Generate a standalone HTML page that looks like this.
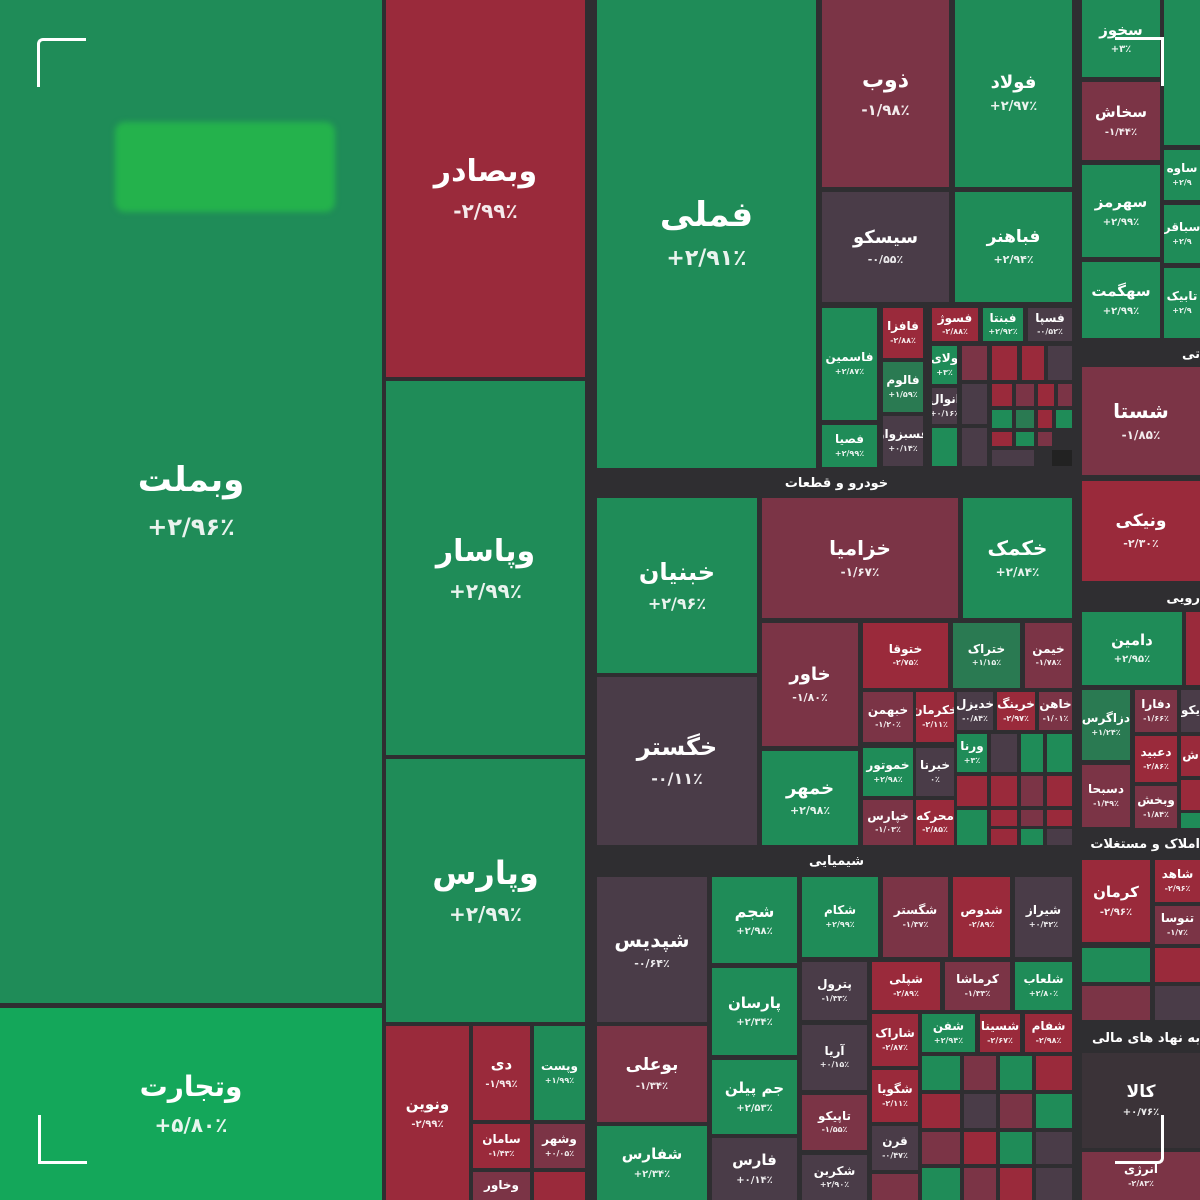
<!DOCTYPE html>
<html><head><meta charset="utf-8"><style>
body{margin:0;width:1200px;height:1200px;overflow:hidden;background:#2f2e31;font-family:"DejaVu Sans","Liberation Sans",sans-serif}
.t{position:absolute;display:flex;flex-direction:column;align-items:center;justify-content:center;color:#fff;font-weight:bold;overflow:hidden;line-height:1.1;white-space:nowrap}
.t i{font-style:normal;opacity:.9;margin-top:.6em}
.g{background:#1f8c58}.d{background:#2a7a52}.b{background:#14a75a}.r{background:#9a2a3b}.m{background:#7b3446}.k{background:#4a3c48}.x{background:#222}
.h{position:absolute;color:#fff;font-weight:bold;font-size:13px;display:flex;align-items:center;justify-content:center;white-space:nowrap;overflow:hidden}
.s{font-size:12px}.s i{font-size:8px;margin-top:.4em}
.n{font-size:15px}.n i{font-size:10px}
.c{position:absolute;border-color:#fff;border-style:solid;border-width:0;width:46px;height:46px}
</style></head><body>
<div class="t g" style="left:0;top:0;width:382px;height:1003px;font-size:34px">وبملت<i style="font-size:24px">+۲/۹۶٪</i></div>
<div style="position:absolute;left:115px;top:122px;width:220px;height:90px;background:#24b24c;border-radius:10px;filter:blur(3px)"></div>
<div class="t b" style="left:0;top:1008px;width:382px;height:192px;font-size:28px">وتجارت<i style="font-size:20px">+۵/۸۰٪</i></div>
<div class="t r" style="left:386px;top:0;width:199px;height:377px;font-size:30px">وبصادر<i style="font-size:20px">-۲/۹۹٪</i></div>
<div class="t g" style="left:386px;top:381px;width:199px;height:374px;font-size:30px">وپاسار<i style="font-size:20px">+۲/۹۹٪</i></div>
<div class="t g" style="left:386px;top:759px;width:199px;height:263px;font-size:32px">وپارس<i style="font-size:20px">+۲/۹۹٪</i></div>
<div class="t r n" style="left:386px;top:1026px;width:83px;height:174px">ونوین<i>-۲/۹۹٪</i></div>
<div class="t r n" style="left:473px;top:1026px;width:57px;height:94px">دی<i>-۱/۹۹٪</i></div>
<div class="t g s" style="left:534px;top:1026px;width:51px;height:94px">وپست<i>+۱/۹۹٪</i></div>
<div class="t r s" style="left:473px;top:1124px;width:57px;height:44px">سامان<i>-۱/۴۳٪</i></div>
<div class="t m s" style="left:534px;top:1124px;width:51px;height:44px">وشهر<i>+۰/۰۵٪</i></div>
<div class="t m s" style="left:473px;top:1172px;width:57px;height:28px">وخاور</div>
<div class="t r" style="left:534px;top:1172px;width:51px;height:28px"></div>
<div class="t g" style="left:597px;top:0;width:219px;height:468px;font-size:34px">فملی<i style="font-size:22px">+۲/۹۱٪</i></div>
<div class="h" style="left:597px;top:470px;width:479px;height:26px">خودرو و قطعات</div>
<div class="t m" style="left:822px;top:0;width:127px;height:187px;font-size:22px">ذوب<i style="font-size:15px">-۱/۹۸٪</i></div>
<div class="t g" style="left:955px;top:0;width:117px;height:187px;font-size:18px">فولاد<i style="font-size:13px">+۲/۹۷٪</i></div>
<div class="t k" style="left:822px;top:192px;width:127px;height:110px;font-size:18px">سیسکو<i style="font-size:11px">-۰/۵۵٪</i></div>
<div class="t g" style="left:955px;top:192px;width:117px;height:110px;font-size:17px">فباهنر<i style="font-size:11px">+۲/۹۴٪</i></div>
<div class="t g s" style="left:822px;top:308px;width:55px;height:112px">فاسمین<i>+۲/۸۷٪</i></div>
<div class="t g s" style="left:822px;top:425px;width:55px;height:42px">فصیا<i>+۲/۹۹٪</i></div>
<div class="t r s" style="left:883px;top:308px;width:40px;height:50px">فافزا<i>-۲/۸۸٪</i></div>
<div class="t d s" style="left:883px;top:362px;width:40px;height:50px">فالوم<i>+۱/۵۹٪</i></div>
<div class="t k s" style="left:883px;top:416px;width:40px;height:50px">فسبزوار<i>+۰/۱۴٪</i></div>
<div class="t r s" style="left:932px;top:308px;width:46px;height:33px">فسوژ<i>-۲/۸۸٪</i></div>
<div class="t g s" style="left:983px;top:308px;width:40px;height:33px">فبنتا<i>+۲/۹۲٪</i></div>
<div class="t k s" style="left:1028px;top:308px;width:44px;height:33px">فسپا<i>-۰/۵۲٪</i></div>
<div class="t g s" style="left:932px;top:346px;width:25px;height:38px">ولای<i>+۳٪</i></div>
<div class="t k s" style="left:932px;top:388px;width:25px;height:36px">انوال<i>+۰/۱۶٪</i></div>
<div class="t g" style="left:932px;top:428px;width:25px;height:38px"></div>
<div class="t m" style="left:962px;top:346px;width:25px;height:34px"></div>
<div class="t r" style="left:992px;top:346px;width:25px;height:34px"></div>
<div class="t r" style="left:1022px;top:346px;width:22px;height:34px"></div>
<div class="t k" style="left:1048px;top:346px;width:24px;height:34px"></div>
<div class="t k" style="left:962px;top:384px;width:25px;height:40px"></div>
<div class="t r" style="left:992px;top:384px;width:20px;height:22px"></div>
<div class="t m" style="left:1016px;top:384px;width:18px;height:22px"></div>
<div class="t r" style="left:1038px;top:384px;width:16px;height:22px"></div>
<div class="t m" style="left:1058px;top:384px;width:14px;height:22px"></div>
<div class="t g" style="left:992px;top:410px;width:20px;height:18px"></div>
<div class="t d" style="left:1016px;top:410px;width:18px;height:18px"></div>
<div class="t r" style="left:1038px;top:410px;width:14px;height:18px"></div>
<div class="t g" style="left:1056px;top:410px;width:16px;height:18px"></div>
<div class="t k" style="left:962px;top:428px;width:25px;height:38px"></div>
<div class="t r" style="left:992px;top:432px;width:20px;height:14px"></div>
<div class="t g" style="left:1016px;top:432px;width:18px;height:14px"></div>
<div class="t m" style="left:1038px;top:432px;width:14px;height:14px"></div>
<div class="t k" style="left:992px;top:450px;width:42px;height:16px"></div>
<div class="t x" style="left:1052px;top:450px;width:20px;height:16px"></div>

<div class="t g" style="left:1082px;top:0;width:78px;height:77px;font-size:15px">سخوز<i style="font-size:10px">+۳٪</i></div>
<div class="t g" style="left:1164px;top:0;width:36px;height:145px"></div>
<div class="t m n" style="left:1082px;top:82px;width:78px;height:78px">سخاش<i>-۱/۴۴٪</i></div>
<div class="t g n" style="left:1082px;top:165px;width:78px;height:92px">سهرمز<i>+۲/۹۹٪</i></div>
<div class="t g n" style="left:1082px;top:262px;width:78px;height:76px">سهگمت<i>+۲/۹۹٪</i></div>
<div class="t g s" style="left:1164px;top:150px;width:36px;height:50px">ساوه<i>+۲/۹</i></div>
<div class="t g s" style="left:1164px;top:205px;width:36px;height:58px">سباقر<i>+۲/۹</i></div>
<div class="t g s" style="left:1164px;top:268px;width:36px;height:70px">تابیک<i>+۲/۹</i></div>
<div class="h" style="left:1082px;top:342px;width:118px;height:24px;justify-content:flex-end">تی</div>
<div class="t m" style="left:1082px;top:367px;width:118px;height:108px;font-size:20px">شستا<i style="font-size:12px">-۱/۸۵٪</i></div>
<div class="t r" style="left:1082px;top:481px;width:118px;height:100px;font-size:17px">ونیکی<i style="font-size:11px">-۲/۳۰٪</i></div>
<div class="h" style="left:1082px;top:586px;width:118px;height:24px;justify-content:flex-end">رویی</div>
<div class="t g n" style="left:1082px;top:612px;width:100px;height:73px">دامین<i>+۲/۹۵٪</i></div>
<div class="t r" style="left:1186px;top:612px;width:14px;height:73px"></div>
<div class="t d s" style="left:1082px;top:690px;width:48px;height:70px">دزاگرس<i>+۱/۲۴٪</i></div>
<div class="t m s" style="left:1082px;top:765px;width:48px;height:62px">دسبحا<i>-۱/۴۹٪</i></div>
<div class="t m s" style="left:1135px;top:690px;width:42px;height:42px">دفارا<i>-۱/۶۶٪</i></div>
<div class="t r s" style="left:1135px;top:736px;width:42px;height:46px">دعبید<i>-۲/۸۶٪</i></div>
<div class="t m s" style="left:1135px;top:786px;width:42px;height:42px">وبخش<i>-۱/۸۴٪</i></div>
<div class="t k s" style="left:1181px;top:690px;width:19px;height:42px">یکو</div>
<div class="t r s" style="left:1181px;top:736px;width:19px;height:40px">ش</div>
<div class="t r" style="left:1181px;top:780px;width:19px;height:30px"></div>
<div class="t g" style="left:1181px;top:813px;width:19px;height:15px"></div>
<div class="h" style="left:1060px;top:832px;width:140px;height:24px;justify-content:flex-end">املاک و مستغلات</div>
<div class="t r n" style="left:1082px;top:860px;width:68px;height:82px">کرمان<i>-۲/۹۶٪</i></div>
<div class="t r s" style="left:1155px;top:860px;width:45px;height:42px">شاهد<i>-۲/۹۶٪</i></div>
<div class="t m s" style="left:1155px;top:906px;width:45px;height:38px">تنوسا<i>-۱/۷٪</i></div>
<div class="t g" style="left:1082px;top:948px;width:68px;height:34px"></div>
<div class="t r" style="left:1155px;top:948px;width:45px;height:34px"></div>
<div class="t m" style="left:1082px;top:986px;width:68px;height:34px"></div>
<div class="t k" style="left:1155px;top:986px;width:45px;height:34px"></div>
<div class="h" style="left:1092px;top:1025px;width:108px;height:26px;justify-content:flex-start">ی به نهاد های مالی</div>
<div class="t k" style="left:1082px;top:1053px;width:118px;height:95px;font-size:17px;background:#3b3338">کالا<i style="font-size:10px">+۰/۷۶٪</i></div>
<div class="t m s" style="left:1082px;top:1152px;width:118px;height:48px">انرژی<i>-۲/۸۳٪</i></div>

<div class="t g" style="left:597px;top:498px;width:160px;height:175px;font-size:24px">خبنیان<i style="font-size:16px">+۲/۹۶٪</i></div>
<div class="t k" style="left:597px;top:677px;width:160px;height:168px;font-size:24px">خگستر<i style="font-size:16px">-۰/۱۱٪</i></div>
<div class="t m" style="left:762px;top:498px;width:196px;height:120px;font-size:20px">خزامیا<i style="font-size:12px">-۱/۶۷٪</i></div>
<div class="t g" style="left:963px;top:498px;width:109px;height:120px;font-size:20px">خکمک<i style="font-size:12px">+۲/۸۴٪</i></div>
<div class="t m" style="left:762px;top:623px;width:96px;height:123px;font-size:18px">خاور<i style="font-size:11px">-۱/۸۰٪</i></div>
<div class="t g" style="left:762px;top:751px;width:96px;height:94px;font-size:18px">خمهر<i style="font-size:11px">+۲/۹۸٪</i></div>
<div class="t r s" style="left:863px;top:623px;width:85px;height:65px">ختوقا<i>-۲/۷۵٪</i></div>
<div class="t d s" style="left:953px;top:623px;width:67px;height:65px">ختراک<i>+۱/۱۵٪</i></div>
<div class="t m s" style="left:1025px;top:623px;width:47px;height:65px">خیمن<i>-۱/۷۸٪</i></div>
<div class="t m s" style="left:863px;top:692px;width:50px;height:50px">خبهمن<i>-۱/۲۰٪</i></div>
<div class="t r s" style="left:916px;top:692px;width:38px;height:50px">خکرمان<i>-۲/۱۱٪</i></div>
<div class="t k s" style="left:957px;top:692px;width:36px;height:38px">خدیزل<i>-۰/۸۴٪</i></div>
<div class="t r s" style="left:997px;top:692px;width:38px;height:38px">خرینگ<i>-۲/۹۷٪</i></div>
<div class="t m s" style="left:1039px;top:692px;width:33px;height:38px">خاهن<i>-۱/۰۱٪</i></div>
<div class="t g s" style="left:863px;top:748px;width:50px;height:48px">خموتور<i>+۲/۹۸٪</i></div>
<div class="t k s" style="left:916px;top:748px;width:38px;height:48px">خبرنا<i>۰٪</i></div>
<div class="t g s" style="left:957px;top:734px;width:30px;height:38px">ورنا<i>+۳٪</i></div>
<div class="t k" style="left:991px;top:734px;width:26px;height:38px"></div>
<div class="t g" style="left:1021px;top:734px;width:22px;height:38px"></div>
<div class="t g" style="left:1047px;top:734px;width:25px;height:38px"></div>
<div class="t m s" style="left:863px;top:800px;width:50px;height:45px">خپارس<i>-۱/۰۳٪</i></div>
<div class="t r s" style="left:916px;top:800px;width:38px;height:45px">محرکه<i>-۲/۸۵٪</i></div>
<div class="t r" style="left:957px;top:776px;width:30px;height:30px"></div>
<div class="t r" style="left:991px;top:776px;width:26px;height:30px"></div>
<div class="t m" style="left:1021px;top:776px;width:22px;height:30px"></div>
<div class="t r" style="left:1047px;top:776px;width:25px;height:30px"></div>
<div class="t g" style="left:957px;top:810px;width:30px;height:35px"></div>
<div class="t r" style="left:991px;top:810px;width:26px;height:16px"></div>
<div class="t m" style="left:1021px;top:810px;width:22px;height:16px"></div>
<div class="t r" style="left:1047px;top:810px;width:25px;height:16px"></div>
<div class="t r" style="left:991px;top:829px;width:26px;height:16px"></div>
<div class="t g" style="left:1021px;top:829px;width:22px;height:16px"></div>
<div class="t k" style="left:1047px;top:829px;width:25px;height:16px"></div>

<div class="h" style="left:597px;top:849px;width:479px;height:25px">شیمیایی</div>
<div class="t k" style="left:597px;top:877px;width:110px;height:145px;font-size:20px">شپدیس<i style="font-size:11px">-۰/۶۴٪</i></div>
<div class="t m" style="left:597px;top:1026px;width:110px;height:96px;font-size:17px">بوعلی<i style="font-size:10px">-۱/۳۴٪</i></div>
<div class="t g n" style="left:597px;top:1126px;width:110px;height:74px">شفارس<i>+۲/۳۴٪</i></div>
<div class="t g" style="left:712px;top:877px;width:85px;height:86px;font-size:16px">شجم<i style="font-size:10px">+۲/۹۸٪</i></div>
<div class="t g n" style="left:712px;top:968px;width:85px;height:87px">پارسان<i>+۲/۳۴٪</i></div>
<div class="t g n" style="left:712px;top:1060px;width:85px;height:74px">جم پیلن<i>+۲/۵۳٪</i></div>
<div class="t k n" style="left:712px;top:1138px;width:85px;height:62px">فارس<i>+۰/۱۴٪</i></div>
<div class="t g s" style="left:802px;top:877px;width:76px;height:80px">شکام<i>+۲/۹۹٪</i></div>
<div class="t m s" style="left:883px;top:877px;width:65px;height:80px">شگستر<i>-۱/۳۷٪</i></div>
<div class="t r s" style="left:953px;top:877px;width:57px;height:80px">شدوص<i>-۲/۸۹٪</i></div>
<div class="t k s" style="left:1015px;top:877px;width:57px;height:80px">شیراز<i>+۰/۴۲٪</i></div>
<div class="t k s" style="left:802px;top:962px;width:65px;height:58px">پترول<i>-۱/۳۳٪</i></div>
<div class="t r s" style="left:872px;top:962px;width:68px;height:48px">شپلی<i>-۲/۸۹٪</i></div>
<div class="t m s" style="left:945px;top:962px;width:65px;height:48px">کرماشا<i>-۱/۳۳٪</i></div>
<div class="t g s" style="left:1015px;top:962px;width:57px;height:48px">شلعاب<i>+۲/۸۰٪</i></div>
<div class="t k s" style="left:802px;top:1025px;width:65px;height:65px">آریا<i>+۰/۱۵٪</i></div>
<div class="t m s" style="left:802px;top:1095px;width:65px;height:55px">تاپیکو<i>-۱/۵۵٪</i></div>
<div class="t k s" style="left:802px;top:1155px;width:65px;height:45px">شکربن<i>+۲/۹۰٪</i></div>
<div class="t r s" style="left:872px;top:1014px;width:46px;height:52px">شاراک<i>-۲/۸۷٪</i></div>
<div class="t r s" style="left:872px;top:1070px;width:46px;height:52px">شگویا<i>-۲/۱۱٪</i></div>
<div class="t k s" style="left:872px;top:1126px;width:46px;height:44px">قرن<i>-۰/۴۷٪</i></div>
<div class="t m" style="left:872px;top:1174px;width:46px;height:26px"></div>
<div class="t g s" style="left:922px;top:1014px;width:53px;height:38px">شفن<i>+۲/۹۴٪</i></div>
<div class="t r s" style="left:980px;top:1014px;width:40px;height:38px">شسینا<i>-۲/۶۷٪</i></div>
<div class="t r s" style="left:1025px;top:1014px;width:47px;height:38px">شفام<i>-۲/۹۸٪</i></div>
<div class="t g" style="left:922px;top:1056px;width:38px;height:34px"></div>
<div class="t m" style="left:964px;top:1056px;width:32px;height:34px"></div>
<div class="t g" style="left:1000px;top:1056px;width:32px;height:34px"></div>
<div class="t r" style="left:1036px;top:1056px;width:36px;height:34px"></div>
<div class="t r" style="left:922px;top:1094px;width:38px;height:34px"></div>
<div class="t k" style="left:964px;top:1094px;width:32px;height:34px"></div>
<div class="t m" style="left:1000px;top:1094px;width:32px;height:34px"></div>
<div class="t g" style="left:1036px;top:1094px;width:36px;height:34px"></div>
<div class="t m" style="left:922px;top:1132px;width:38px;height:32px"></div>
<div class="t r" style="left:964px;top:1132px;width:32px;height:32px"></div>
<div class="t g" style="left:1000px;top:1132px;width:32px;height:32px"></div>
<div class="t k" style="left:1036px;top:1132px;width:36px;height:32px"></div>
<div class="t g" style="left:922px;top:1168px;width:38px;height:32px"></div>
<div class="t m" style="left:964px;top:1168px;width:32px;height:32px"></div>
<div class="t r" style="left:1000px;top:1168px;width:32px;height:32px"></div>
<div class="t k" style="left:1036px;top:1168px;width:36px;height:32px"></div>

<div class="c" style="left:37px;top:38px;border-top-width:3px;border-left-width:3px;border-top-left-radius:6px"></div>
<div class="c" style="left:38px;top:1115px;border-bottom-width:3px;border-left-width:3px"></div>
<div class="c" style="left:1115px;top:37px;border-top-width:3px;border-right-width:3px"></div>
<div class="c" style="left:1115px;top:1115px;border-bottom-width:3px;border-right-width:3px;border-bottom-right-radius:6px"></div>
</body></html>
